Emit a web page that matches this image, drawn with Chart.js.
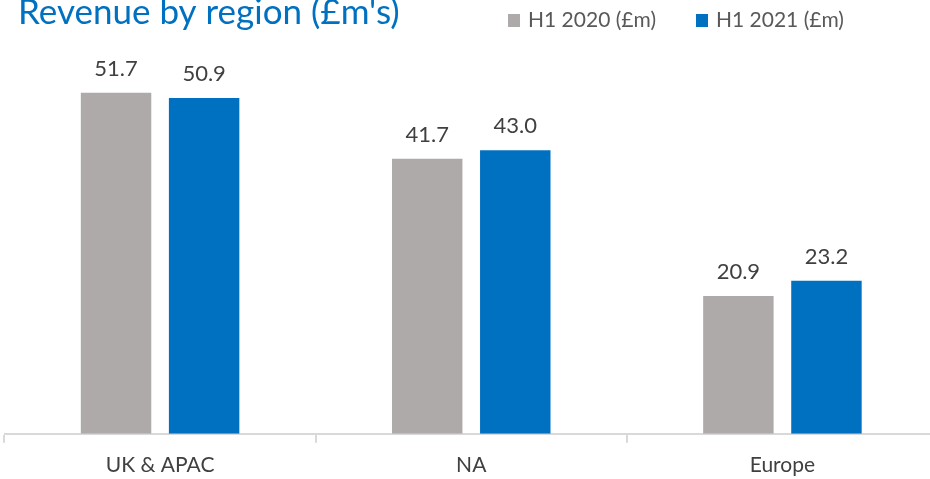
<!DOCTYPE html>
<html>
<head>
<meta charset="utf-8">
<script src="https://cdn.jsdelivr.net/npm/chart.js@4.4.1/dist/chart.umd.min.js"></script>
<style>
  html, body { margin: 0; padding: 0; background: #fff; overflow: hidden; }
  #wrap { width: 938px; height: 479px; }
</style>
</head>
<body>
<div id="wrap"><canvas id="region-revenue" width="938" height="479"></canvas></div>
<script>
const regions = ['UK & APAC', 'NA', 'Europe'];
const h1_2020 = [51.7, 41.7, 20.9];
const h1_2021 = [50.9, 43.0, 23.2];
const seriesNames = ['H1 2020 (£m)', 'H1 2021 (£m)'];
const chartTitle = "Revenue by region (£m's)";

const FONT = 'Lato, "Open Sans", sans-serif';
const GREY = '#AEAAAA';
const BLUE = '#0070C0';

// title on the left, small square-swatch legend on the right of the same row
const headerPlugin = {
  id: 'header',
  afterDraw(chart) {
    const ctx = chart.ctx;
    ctx.save();
    ctx.textBaseline = 'alphabetic';
    ctx.textAlign = 'left';
    ctx.font = `35px ${FONT}`;
    ctx.fillStyle = BLUE;
    ctx.fillText(chartTitle, 18, 24);

    ctx.font = `21px ${FONT}`;
    let x = 508;
    chart.data.datasets.forEach((ds) => {
      ctx.fillStyle = ds.backgroundColor;
      ctx.fillRect(x, 14, 12, 13);
      ctx.fillStyle = '#595959';
      ctx.fillText(ds.label, x + 20, 27);
      x += 20 + ctx.measureText(ds.label).width + 40;
    });
    ctx.restore();
  }
};

// value above each bar
const valueLabels = {
  id: 'valueLabels',
  afterDatasetsDraw(chart) {
    const ctx = chart.ctx;
    ctx.save();
    ctx.font = `22px ${FONT}`;
    ctx.fillStyle = '#404040';
    ctx.textAlign = 'center';
    ctx.textBaseline = 'alphabetic';
    chart.data.datasets.forEach((ds, i) => {
      chart.getDatasetMeta(i).data.forEach((bar, j) => {
        ctx.fillText(ds.data[j].toFixed(1), bar.x, bar.y - 17);
      });
    });
    ctx.restore();
  }
};

new Chart(document.getElementById('region-revenue'), {
  type: 'bar',
  data: {
    labels: regions,
    datasets: [
      { label: seriesNames[0], data: h1_2020, backgroundColor: GREY },
      { label: seriesNames[1], data: h1_2021, backgroundColor: BLUE }
    ]
  },
  options: {
    responsive: false,
    animation: false,
    devicePixelRatio: 1,
    categoryPercentage: 0.566,
    barPercentage: 0.8,
    layout: { padding: { top: 38, left: 4.5, right: 0, bottom: -9 } },
    plugins: {
      legend: { display: false },
      title: { display: false },
      tooltip: { enabled: false }
    },
    scales: {
      x: {
        grid: {
          offset: true,
          drawOnChartArea: false,
          drawTicks: true,
          tickLength: 9,
          color: '#D9D9D9',
          lineWidth: 2
        },
        border: { color: '#D9D9D9', width: 2 },
        ticks: {
          color: '#404040',
          font: { family: FONT, size: 21, lineHeight: 1.01 },
          padding: 12
        }
      },
      y: {
        display: false,
        min: 0,
        max: 60
      }
    }
  },
  plugins: [headerPlugin, valueLabels]
});
</script>
</body>
</html>
